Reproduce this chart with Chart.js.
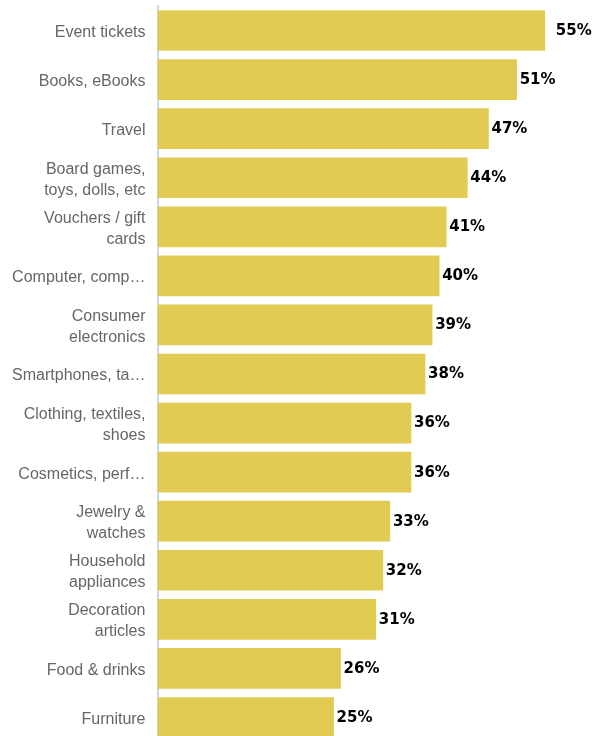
<!DOCTYPE html>
<html>
<head>
<meta charset="utf-8">
<script src="https://cdn.jsdelivr.net/npm/chart.js@4"></script>
<style>
  html, body { margin: 0; padding: 0; background: #fff; overflow: hidden; }
  #wrap { width: 594px; height: 736px; overflow: hidden; }
</style>
</head>
<body>
<div id="wrap"><canvas id="chart" width="594" height="742"></canvas></div>
<script>
const categories = [
    'Event tickets',
    'Books, eBooks',
    'Travel',
    ['Board games,', 'toys, dolls, etc'],
    ['Vouchers / gift', 'cards'],
    'Computer, comp…',
    ['Consumer', 'electronics'],
    'Smartphones, ta…',
    ['Clothing, textiles,', 'shoes'],
    'Cosmetics, perf…',
    ['Jewelry &', 'watches'],
    ['Household', 'appliances'],
    ['Decoration', 'articles'],
    'Food & drinks',
    'Furniture'
];
const shares = [55, 51, 47, 44, 41, 40, 39, 38, 36, 36, 33, 32, 31, 26, 25];

// value labels at the end of each bar
const valueLabels = {
    id: 'valueLabels',
    afterDatasetsDraw(chart) {
        const ctx = chart.ctx;
        const meta = chart.getDatasetMeta(0);
        ctx.save();
        ctx.font = 'bold 15px "DejaVu Sans"';
        ctx.fillStyle = '#000';
        ctx.textBaseline = 'middle';
        ctx.textAlign = 'left';
        meta.data.forEach((bar, i) => {
            const off = i === 0 ? 11 : 3;
            ctx.fillText(shares[i] + '%', bar.x + off, bar.y + 0.5);
        });
        ctx.restore();
    }
};

new Chart(document.getElementById('chart'), {
    type: 'bar',
    data: {
        labels: categories,
        datasets: [{
            data: shares,
            backgroundColor: '#E2CB52',
            barThickness: 40
        }]
    },
    options: {
        indexAxis: 'y',
        responsive: false,
        animation: false,
        layout: { padding: { top: 6, right: 14, bottom: 0, left: 0 } },
        plugins: { legend: { display: false }, tooltip: { enabled: false } },
        scales: {
            x: { display: false, min: 0, max: 60 },
            y: {
                grid: { display: false, drawTicks: false },
                border: { display: true, color: '#ccd6eb', width: 2 },
                ticks: {
                    color: '#666',
                    padding: 12,
                    labelOffset: 2,
                    font: { family: '"Liberation Sans", Arial', size: 16, lineHeight: 1.3 }
                },
                afterFit(scale) {
                    scale.width = 157.5;
                    scale.paddingTop = 0;
                    scale.paddingBottom = 0;
                }
            }
        }
    },
    plugins: [valueLabels]
});
</script>
</body>
</html>
